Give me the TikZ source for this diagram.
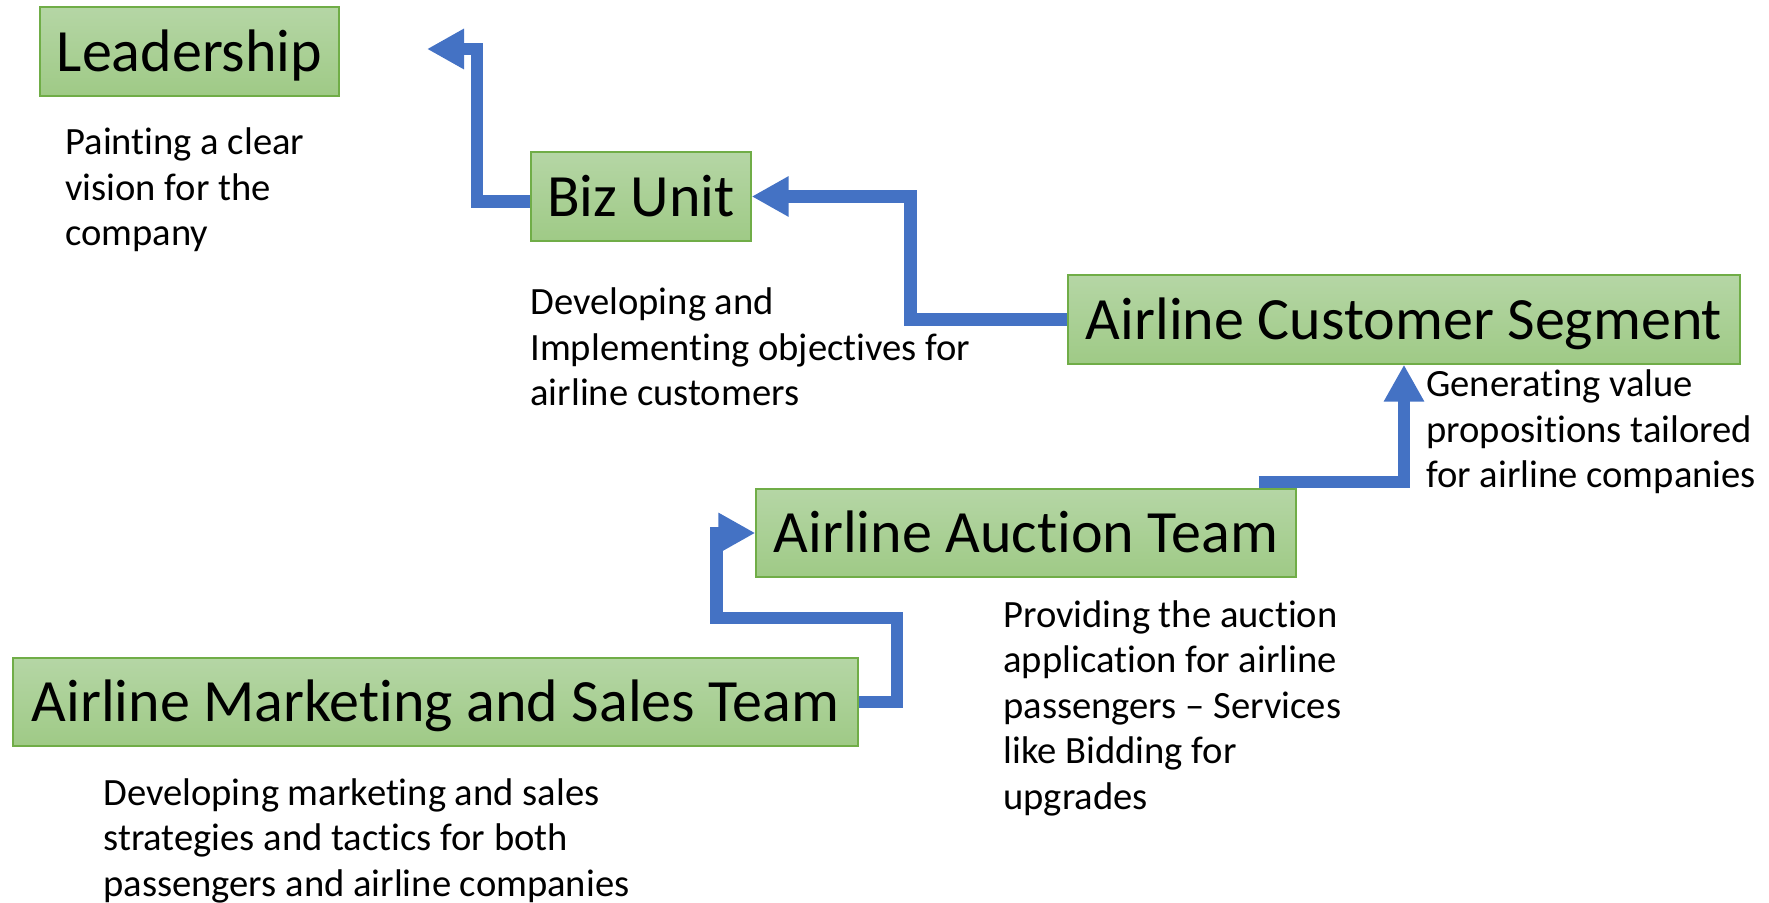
\documentclass[tikz,border=0pt]{standalone}
\usepackage{fontspec}
\setmainfont{Carlito}[Ligatures=NoCommon]
\usetikzlibrary{arrows.meta,calc}
\definecolor{boxtop}{HTML}{B5D6A5}
\definecolor{boxbot}{HTML}{9FCA86}
\definecolor{boxline}{HTML}{70AD47}
\definecolor{arrowblue}{HTML}{4472C4}
\tikzset{
  stagebox/.style={rectangle, draw=boxline, line width=0.7pt, top color=boxtop, bottom color=boxbot,
    inner sep=0pt, font=\fontsize{30pt}{36pt}\selectfont, text height=20pt, text depth=0pt, align=center},
  desc/.style={anchor=base west, inner sep=0pt, align=left, font=\fontsize{19.3pt}{22.75pt}\selectfont},
  conn/.style={draw=arrowblue, line width=6.25pt, line join=miter, line cap=butt,
    -{Triangle[length=18.5pt, width=19pt, fill=arrowblue]}}
}
\begin{document}
\begin{tikzpicture}[x=0.5pt, y=-0.5pt]
\useasboundingbox (0,0) rectangle (1769,903);
% boxes
\node[stagebox, minimum width=149.5pt, minimum height=44.5pt] (lead) at (189.5,51.5) {Leadership};
\node[stagebox, minimum width=110pt, minimum height=44.5pt] (biz) at (641,196.5) {Biz Unit};
\node[stagebox, minimum width=336pt, minimum height=44.5pt] (acs) at (1404,319.5) {Airline Customer Segment};
\node[stagebox, minimum width=270pt, minimum height=44pt] (auc) at (1026,533) {Airline Auction Team};
\node[stagebox, minimum width=422.5pt, minimum height=44pt] (mkt) at (435.5,702) {Airline Marketing and Sales Team};
% descriptions (anchored at the baseline of their last line)
\node[desc] (leaddesc) at (65,246) {Painting a clear\\vision for the\\company};
\node[desc] (bizdesc) at (530,406) {Developing and\\Implementing objectives for\\airline customers};
\node[desc] (acsdesc) at (1426,488) {Generating value\\propositions tailored\\for airline companies};
\node[desc] (aucdesc) at (1003,809) {Providing the auction\\application for airline\\passengers – Services\\like Bidding for\\upgrades};
\node[desc] (mktdesc) at (103,896) {Developing marketing and sales\\strategies and tactics for both\\passengers and airline companies};
% connectors
\coordinate (ltip) at (427,49);
\draw[conn] ($(biz.west)+(0,5)$) -| ($(ltip)+(50,0)$) -- (ltip);
\draw[conn] (acs.west) -| ($(biz.east)+(159,0)$) -- (biz.east);
\draw[conn] ($(auc.north east)+(-38,-6.5)$) -| (acs.south);
\draw[conn] (mkt.east) -| (897,618) -| ($(auc.west)+(-39,0)$) -- (auc.west);
\end{tikzpicture}
\end{document}
